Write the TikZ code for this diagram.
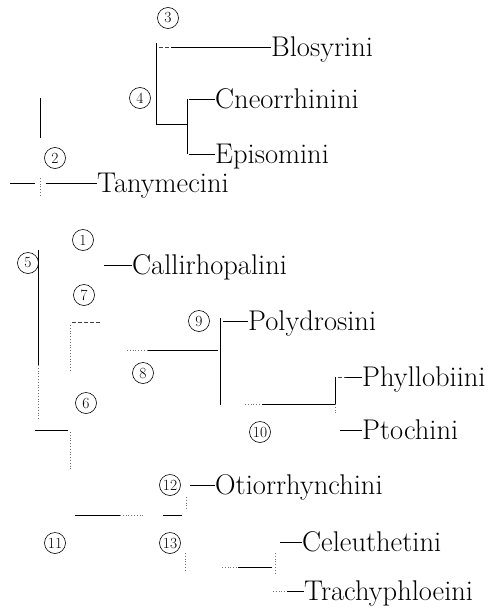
\documentclass[tikz,border=0pt]{standalone}
\usepackage{fontspec}
\begin{document}
\begin{tikzpicture}[x=1pt,y=-1pt,
  lab/.style={anchor=base west, inner sep=0pt, font=\fontsize{28.5}{28.5}\selectfont},
  num/.style={circle, draw, line width=0.6pt, inner sep=0pt, minimum size=21pt, font=\fontsize{15.5}{15.5}\selectfont},
  br/.style={line width=0.8pt},
  faint/.style={line width=0.8pt, dotted, black!55},
  dsh/.style={line width=0.8pt, dash pattern=on 4pt off 2pt, black!75}]
\useasboundingbox (0,0) rectangle (492,608);
% labels (baseline = branch y + 9)
\node[lab] (blo)  at (271,56)  {Blosyrini};
\node[lab] (cne)  at (215,108) {Cneorrhinini};
\node[lab] (epi)  at (215,163) {Episomini};
\node[lab] (tan)  at (97,192)  {Tanymecini};
\node[lab] (cal)  at (132,274) {Callirhopalini};
\node[lab] (pol)  at (248,330) {Polydrosini};
\node[lab] (phy)  at (362,386) {Phyllobiini};
\node[lab] (pto)  at (362,439) {Ptochini};
\node[lab] (oti)  at (215,494) {Otiorrhynchini};
\node[lab] (cel)  at (302,551) {Celeuthetini};
\node[lab] (tra)  at (304,600) {Trachyphloeini};
% circled numbers
\node[num] (n3)  at (168,18)  {3};
\node[num] (n4)  at (140,98)  {4};
\node[num] (n2)  at (55,158)  {2};
\node[num] (n1)  at (83,240)  {1};
\node[num] (n5)  at (28,263)  {5};
\node[num] (n7)  at (84,295)  {7};
\node[num] (n9)  at (199,321) {9};
\node[num] (n8)  at (143,373) {8};
\node[num] (n6)  at (86,403)  {6};
\node[num] (n10) at (260,432) {10};
\node[num] (n12) at (170,485) {12};
\node[num] (n11) at (55,543)  {11};
\node[num] (n13) at (170,543) {13};
% branch points
\coordinate (b3)  at (159,47);
\coordinate (v3a) at (156,43);
\coordinate (v3b) at (156,124);
\coordinate (v4a) at (187,99);
\coordinate (v4b) at (187,154);
\coordinate (v4m) at (187,124);
\coordinate (c4)  at (189,99);
\coordinate (e4)  at (189,154);
\draw[br] (v3a) -- (v3b) -- (v4m);
\draw[br] (v4a) -- (v4b);
\draw[dsh] (b3) -- ++(12,0);
\draw[br] ([xshift=12pt]b3) -- (b3 -| blo.west);
\draw[br] (c4) -- (c4 -| cne.west);
\draw[br] (e4) -- (e4 -| epi.west);
% upper isolated stem
\coordinate (s1a) at (40,98);
\coordinate (s1b) at (40,138);
\draw[br] (s1a) -- (s1b);
% Tanymecini row
\coordinate (r0) at (10,183);
\coordinate (r1) at (35,183);
\coordinate (t0) at (46,183);
\draw[br] (r0) -- (r1);
\draw[br] (t0) -- (t0 -| tan.west);
\coordinate (d2a) at (40,178);
\coordinate (d2b) at (40,196);
\draw[faint] (d2a) -- (d2b);
% 5 stem
\coordinate (v5a) at (38,250);
\coordinate (v5b) at (38,365);
\coordinate (v5c) at (38,420);
\draw[br] (v5a) -- (v5b);
\draw[faint] (v5b) -- (v5c);
% Callirhopalini
\coordinate (k1) at (104,265);
\draw[br] (k1) -- (k1 -| cal.west);
% 7 row
\coordinate (h7a) at (72,322);
\coordinate (h7b) at (100,322);
\draw[dsh] (h7a) -- (h7b);
\coordinate (v7a) at (70,325);
\coordinate (v7b) at (70,372);
\draw[faint] (v7a) -- (v7b);
% 8 row
\coordinate (h8a) at (127,350);
\coordinate (h8b) at (148,350);
\coordinate (h8c) at (218,350);
\draw[faint] (h8a) -- (h8b);
\draw[br] (h8b) -- (h8c);
% 9 stem
\coordinate (v9a) at (220,318);
\coordinate (v9b) at (220,405);
\draw[br] (v9a) -- (v9b);
\coordinate (p9) at (223,321);
\draw[br] (p9) -- (p9 -| pol.west);
% 10 clade
\coordinate (h10a) at (245,404);
\coordinate (h10b) at (262,404);
\coordinate (h10c) at (335,404);
\draw[faint] (h10a) -- (h10b);
\draw[br] (h10b) -- (h10c);
\coordinate (v10a) at (335,377);
\coordinate (v10b) at (335,414);
\draw[br] (v10a) -- (h10c);
\draw[faint] (h10c) -- (v10b);
\coordinate (ph) at (338,377);
\draw[dsh] (ph) -- ++(8,0);
\draw[br] ([xshift=8pt]ph) -- (ph -| phy.west);
\coordinate (pt) at (340,430);
\draw[br] (pt) -- (pt -| pto.west);
% 6 row
\coordinate (h6a) at (35,430);
\coordinate (h6b) at (68,430);
\draw[br] (h6a) -- (h6b);
\coordinate (v6a) at (70,432);
\coordinate (v6b) at (70,470);
\draw[faint] (v6a) -- (v6b);
% 12
\coordinate (o12) at (190,485);
\draw[br] (o12) -- (o12 -| oti.west);
\coordinate (v12a) at (186,497);
\coordinate (v12b) at (186,511);
\draw[faint] (v12a) -- (v12b);
% 11 row
\coordinate (h11a) at (75,515);
\coordinate (h11b) at (120,515);
\coordinate (h11c) at (145,515);
\draw[br] (h11a) -- (h11b);
\draw[faint] (h11b) -- (h11c);
\coordinate (h11d) at (163,515);
\coordinate (h11e) at (182,515);
\draw[br] (h11d) -- (h11e);
% 13
\coordinate (v13a) at (185,553);
\coordinate (v13b) at (185,570);
\draw[faint] (v13a) -- (v13b);
\coordinate (ce) at (280,542);
\draw[br] (ce) -- (ce -| cel.west);
\coordinate (v13c) at (275,553);
\coordinate (v13d) at (275,574);
\draw[faint] (v13c) -- (v13d);
\coordinate (h13a) at (222,567);
\coordinate (h13b) at (238,567);
\coordinate (h13c) at (272,567);
\draw[faint] (h13a) -- (h13b);
\draw[br] (h13b) -- (h13c);
\coordinate (tr) at (273,591);
\draw[faint] (tr) -- ++(12,0);
\draw[br] ([xshift=14pt]tr) -- (tr -| tra.west);
\end{tikzpicture}
\end{document}
